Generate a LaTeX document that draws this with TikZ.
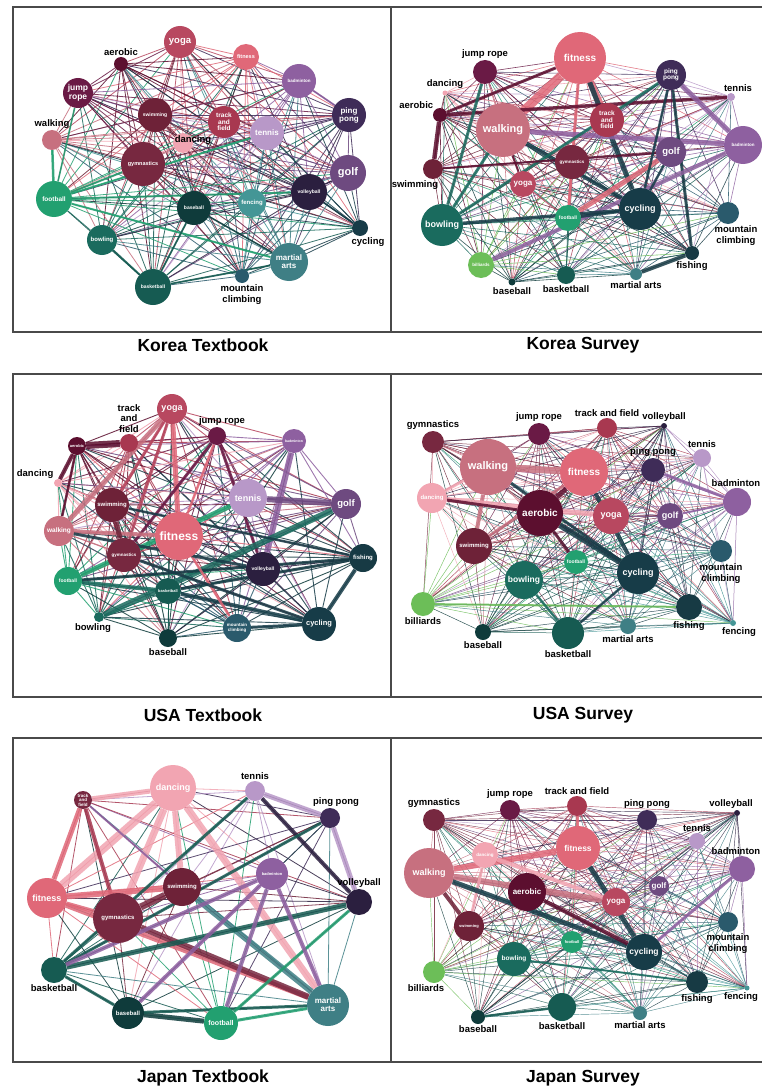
\documentclass[tikz,border=0pt]{standalone}
\usepackage{fontspec}
\setmainfont{Liberation Sans}
\usetikzlibrary{backgrounds}

\definecolor{c-fitness}{HTML}{E06878}
\definecolor{c-walking}{HTML}{C7707F}
\definecolor{c-yoga}{HTML}{B84860}
\definecolor{c-dancing}{HTML}{F2A5B2}
\definecolor{c-aerobic}{HTML}{5C0F2F}
\definecolor{c-jumprope}{HTML}{6A1A45}
\definecolor{c-trackfield}{HTML}{A83850}
\definecolor{c-gymnastics}{HTML}{772840}
\definecolor{c-swimming}{HTML}{6E2238}
\definecolor{c-badminton}{HTML}{8E60A0}
\definecolor{c-tennis}{HTML}{B898C8}
\definecolor{c-pingpong}{HTML}{3F2C58}
\definecolor{c-golf}{HTML}{6E4A80}
\definecolor{c-volleyball}{HTML}{2B1F3F}
\definecolor{c-football}{HTML}{22A070}
\definecolor{c-billiards}{HTML}{6CBE58}
\definecolor{c-bowling}{HTML}{1A6B5E}
\definecolor{c-basketball}{HTML}{165B52}
\definecolor{c-baseball}{HTML}{0F3B3B}
\definecolor{c-cycling}{HTML}{173C48}
\definecolor{c-fishing}{HTML}{173A44}
\definecolor{c-mountain}{HTML}{2A5A6C}
\definecolor{c-martial}{HTML}{3F7F85}
\definecolor{c-fencing}{HTML}{449696}
\definecolor{frame}{HTML}{4A4A4A}

\tikzset{
  ball/.style={circle, inner sep=0pt, fill=#1, text=white, align=center},
  fs/.style={font=\bfseries\fontsize{#1}{#1}\selectfont},
  lab/.style={font=\bfseries\fontsize{9.5}{10.5}\selectfont, text=black, inner sep=1.5pt, align=center},
  tie/.style={line width=#1, opacity=.85},
  caption/.style={font=\bfseries\fontsize{17.5}{20}\selectfont},
}

% every pair of a panel joined by a thin line
\newcommand\meshall[3]{%
  \foreach \a [count=\i] in {#2} {%
    \foreach \b [count=\j] in {#2} {%
      \ifnum\j>\i
        \ifodd\numexpr\i+\j\relax \def\ec{\b}\else\def\ec{\a}\fi
        \draw[tie=#3, draw=c-\ec] (#1-\a) -- (#1-\b);
      \fi
    }%
  }%
}

\begin{document}
\begin{tikzpicture}[x=1pt,y=-1pt]
\useasboundingbox (0,0) rectangle (762,1089);

% frames
\draw[frame, line width=1.2] (13,7) rectangle (391,332) (391,7) -- (762,7) (391,332) -- (762,332);
\draw[frame, line width=1.2] (13,374) rectangle (391,697) (391,374) -- (762,374) (391,697) -- (762,697);
\draw[frame, line width=1.2] (13,738) rectangle (391,1062) (391,738) -- (762,738) (391,1062) -- (762,1062);

\node[caption] (t1) at (203,345) {Korea Textbook};
\node[caption] (t2) at (583,345) {Korea Survey};
\node[caption] (t3) at (203,715) {USA Textbook};
\node[caption] (t4) at (583,715) {USA Survey};
\node[caption] (t5) at (203,1078) {Japan Textbook};
\node[caption] (t6) at (583,1078) {Japan Survey};

% Korea Textbook
\node[ball=c-yoga, minimum size=32, fs=9.5] (p1-yoga) at (180,42) {yoga};
\node[ball=c-fitness, minimum size=26, fs=5.5] (p1-fitness) at (246,57) {fitness};
\node[ball=c-aerobic, minimum size=14, label={[lab]above:aerobic}] (p1-aerobic) at (121,64) {};
\node[ball=c-jumprope, minimum size=30, fs=8.5] (p1-jumprope) at (78,93) {jump\\rope};
\node[ball=c-badminton, minimum size=34, fs=4.5] (p1-badminton) at (299,81) {badminton};
\node[ball=c-pingpong, minimum size=34, fs=8] (p1-pingpong) at (349,115) {ping\\pong};
\node[ball=c-walking, minimum size=20, label={[lab]above:walking}] (p1-walking) at (52,140) {};
\node[ball=c-swimming, minimum size=34, fs=5] (p1-swimming) at (155,115) {swimming};
\node[ball=c-trackfield, minimum size=32, fs=6.5] (p1-trackfield) at (224,122) {track\\and\\field};
\node[ball=c-dancing, minimum size=20, label={[lab, xshift=10pt, yshift=-13pt]above:dancing}] (p1-dancing) at (183,143) {};
\node[ball=c-tennis, minimum size=34, fs=8] (p1-tennis) at (267,133) {tennis};
\node[ball=c-gymnastics, minimum size=44, fs=5.5] (p1-gymnastics) at (143,164) {gymnastics};
\node[ball=c-golf, minimum size=36, fs=11] (p1-golf) at (348,173) {golf};
\node[ball=c-football, minimum size=36, fs=6.5] (p1-football) at (54,199) {football};
\node[ball=c-baseball, minimum size=34, fs=5] (p1-baseball) at (194,208) {baseball};
\node[ball=c-fencing, minimum size=28, fs=6] (p1-fencing) at (252,203) {fencing};
\node[ball=c-volleyball, minimum size=36, fs=5] (p1-volleyball) at (309,192) {volleyball};
\node[ball=c-cycling, minimum size=16, label={[lab, xshift=8pt]below:cycling}] (p1-cycling) at (360,228) {};
\node[ball=c-bowling, minimum size=30, fs=6] (p1-bowling) at (102,240) {bowling};
\node[ball=c-martial, minimum size=38, fs=8] (p1-martial) at (289,262) {martial\\arts};
\node[ball=c-basketball, minimum size=36, fs=5] (p1-basketball) at (153,287) {basketball};
\node[ball=c-mountain, minimum size=14, label={[lab]below:mountain\\climbing}] (p1-mountain) at (242,276) {};

% Korea Survey
\node[ball=c-fitness, minimum size=52, fs=10] (p2-fitness) at (580,58) {fitness};
\node[ball=c-jumprope, minimum size=24, label={[lab]above:jump rope}] (p2-jumprope) at (485,72) {};
\node[ball=c-dancing, minimum size=5, label={[lab]above:dancing}] (p2-dancing) at (445,93) {};
\node[ball=c-aerobic, minimum size=14, label={[lab]above left:aerobic}] (p2-aerobic) at (440,115) {};
\node[ball=c-walking, minimum size=54, fs=11] (p2-walking) at (503,130) {walking};
\node[ball=c-trackfield, minimum size=34, fs=6.5] (p2-trackfield) at (607,120) {track\\and\\field};
\node[ball=c-pingpong, minimum size=30, fs=6.5] (p2-pingpong) at (671,75) {ping\\pong};
\node[ball=c-tennis, minimum size=8, label={[lab, xshift=7pt]above:tennis}] (p2-tennis) at (731,97) {};
\node[ball=c-badminton, minimum size=38, fs=4.5] (p2-badminton) at (743,145) {badminton};
\node[ball=c-golf, minimum size=30, fs=9.5] (p2-golf) at (671,152) {golf};
\node[ball=c-gymnastics, minimum size=34, fs=4.5] (p2-gymnastics) at (572,162) {gymnastics};
\node[ball=c-swimming, minimum size=20, label={[lab, xshift=-18pt]below:swimming}] (p2-swimming) at (433,169) {};
\node[ball=c-yoga, minimum size=26, fs=8] (p2-yoga) at (523,184) {yoga};
\node[ball=c-cycling, minimum size=42, fs=9] (p2-cycling) at (640,209) {cycling};
\node[ball=c-mountain, minimum size=22, label={[lab, xshift=8pt]below:mountain\\climbing}] (p2-mountain) at (728,213) {};
\node[ball=c-bowling, minimum size=42, fs=9] (p2-bowling) at (442,225) {bowling};
\node[ball=c-football, minimum size=26, fs=5] (p2-football) at (568,218) {football};
\node[ball=c-billiards, minimum size=26, fs=4.5] (p2-billiards) at (481,265) {billiards};
\node[ball=c-baseball, minimum size=7, label={[lab]below:baseball}] (p2-baseball) at (512,282) {};
\node[ball=c-basketball, minimum size=18, label={[lab]below:basketball}] (p2-basketball) at (566,275) {};
\node[ball=c-martial, minimum size=12, label={[lab]below:martial arts}] (p2-martial) at (636,274) {};
\node[ball=c-fishing, minimum size=14, label={[lab]below:fishing}] (p2-fishing) at (692,253) {};

% USA Textbook
\node[ball=c-yoga, minimum size=30, fs=9] (p3-yoga) at (172,409) {yoga};
\node[ball=c-jumprope, minimum size=18, label={[lab, xshift=5pt]above:jump rope}] (p3-jumprope) at (217,436) {};
\node[ball=c-trackfield, minimum size=18, label={[lab]above:track\\and\\field}] (p3-trackfield) at (129,443) {};
\node[ball=c-aerobic, minimum size=18, fs=4] (p3-aerobic) at (77,446) {aerobic};
\node[ball=c-badminton, minimum size=24, fs=3.5] (p3-badminton) at (294,441) {badminton};
\node[ball=c-dancing, minimum size=8, label={[lab]above left:dancing}] (p3-dancing) at (58,483) {};
\node[ball=c-swimming, minimum size=34, fs=6] (p3-swimming) at (112,505) {swimming};
\node[ball=c-tennis, minimum size=38, fs=9] (p3-tennis) at (248,498) {tennis};
\node[ball=c-golf, minimum size=30, fs=9.5] (p3-golf) at (346,504) {golf};
\node[ball=c-walking, minimum size=30, fs=6.5] (p3-walking) at (59,531) {walking};
\node[ball=c-fitness, minimum size=48, fs=12] (p3-fitness) at (179,536) {fitness};
\node[ball=c-gymnastics, minimum size=34, fs=4.5] (p3-gymnastics) at (124,555) {gymnastics};
\node[ball=c-fishing, minimum size=28, fs=6] (p3-fishing) at (363,558) {fishing};
\node[ball=c-volleyball, minimum size=34, fs=5] (p3-volleyball) at (263,569) {volleyball};
\node[ball=c-football, minimum size=28, fs=5] (p3-football) at (68,581) {football};
\node[ball=c-basketball, minimum size=26, fs=4] (p3-basketball) at (168,591) {basketball};
\node[ball=c-bowling, minimum size=10, label={[lab, xshift=-6pt]below:bowling}] (p3-bowling) at (99,617) {};
\node[ball=c-baseball, minimum size=18, label={[lab]below:baseball}] (p3-baseball) at (168,638) {};
\node[ball=c-mountain, minimum size=28, fs=4.5] (p3-mountain) at (237,628) {mountain\\climbing};
\node[ball=c-cycling, minimum size=34, fs=7.5] (p3-cycling) at (319,624) {cycling};

% USA Survey
\node[ball=c-gymnastics, minimum size=22, label={[lab]above:gymnastics}] (p4-gymnastics) at (433,442) {};
\node[ball=c-jumprope, minimum size=22, label={[lab]above:jump rope}] (p4-jumprope) at (539,434) {};
\node[ball=c-trackfield, minimum size=20, label={[lab]above:track and field}] (p4-trackfield) at (607,428) {};
\node[ball=c-volleyball, minimum size=6, label={[lab]above:volleyball}] (p4-volleyball) at (664,426) {};
\node[ball=c-tennis, minimum size=18, label={[lab]above:tennis}] (p4-tennis) at (702,458) {};
\node[ball=c-walking, minimum size=56, fs=11] (p4-walking) at (488,467) {walking};
\node[ball=c-fitness, minimum size=48, fs=10] (p4-fitness) at (584,472) {fitness};
\node[ball=c-pingpong, minimum size=24, label={[lab]above:ping pong}] (p4-pingpong) at (653,470) {};
\node[ball=c-badminton, minimum size=28, label={[lab, xshift=-1pt]above:badminton}] (p4-badminton) at (737,502) {};
\node[ball=c-dancing, minimum size=30, fs=6] (p4-dancing) at (432,498) {dancing};
\node[ball=c-aerobic, minimum size=46, fs=10] (p4-aerobic) at (540,513) {aerobic};
\node[ball=c-yoga, minimum size=36, fs=9] (p4-yoga) at (611,516) {yoga};
\node[ball=c-golf, minimum size=26, fs=9] (p4-golf) at (670,516) {golf};
\node[ball=c-swimming, minimum size=36, fs=6] (p4-swimming) at (474,546) {swimming};
\node[ball=c-mountain, minimum size=22, label={[lab]below:mountain\\climbing}] (p4-mountain) at (721,551) {};
\node[ball=c-football, minimum size=24, fs=5] (p4-football) at (576,562) {football};
\node[ball=c-cycling, minimum size=42, fs=9] (p4-cycling) at (638,573) {cycling};
\node[ball=c-bowling, minimum size=38, fs=8.5] (p4-bowling) at (524,580) {bowling};
\node[ball=c-billiards, minimum size=24, label={[lab]below:billiards}] (p4-billiards) at (423,604) {};
\node[ball=c-fishing, minimum size=26, label={[lab]below:fishing}] (p4-fishing) at (689,607) {};
\node[ball=c-fencing, minimum size=6, label={[lab, xshift=6pt]below:fencing}] (p4-fencing) at (733,623) {};
\node[ball=c-baseball, minimum size=16, label={[lab]below:baseball}] (p4-baseball) at (483,632) {};
\node[ball=c-basketball, minimum size=32, label={[lab]below:basketball}] (p4-basketball) at (568,633) {};
\node[ball=c-martial, minimum size=16, label={[lab]below:martial arts}] (p4-martial) at (628,626) {};

% Japan Textbook
\node[ball=c-dancing, minimum size=46, fs=9] (p5-dancing) at (173,788) {dancing};
\node[ball=c-gymnastics, minimum size=18, fs=4.5] (p5-trackfield) at (83,800) {track\\and\\field};
\node[ball=c-tennis, minimum size=20, label={[lab]above:tennis}] (p5-tennis) at (255,791) {};
\node[ball=c-pingpong, minimum size=20, label={[lab, xshift=6pt]above:ping pong}] (p5-pingpong) at (330,818) {};
\node[ball=c-badminton, minimum size=32, fs=4] (p5-badminton) at (272,874) {badminton};
\node[ball=c-volleyball, minimum size=26, label={[lab]above:volleyball}] (p5-volleyball) at (359,902) {};
\node[ball=c-swimming, minimum size=38, fs=6] (p5-swimming) at (182,887) {swimming};
\node[ball=c-fitness, minimum size=40, fs=9] (p5-fitness) at (47,898) {fitness};
\node[ball=c-gymnastics, minimum size=50, fs=6] (p5-gymnastics) at (118,918) {gymnastics};
\node[ball=c-basketball, minimum size=26, label={[lab]below:basketball}] (p5-basketball) at (54,970) {};
\node[ball=c-baseball, minimum size=32, fs=6] (p5-baseball) at (128,1013) {baseball};
\node[ball=c-football, minimum size=34, fs=7] (p5-football) at (221,1023) {football};
\node[ball=c-martial, minimum size=42, fs=8] (p5-martial) at (328,1005) {martial\\arts};

% Japan Survey
\node[ball=c-gymnastics, minimum size=22, label={[lab]above:gymnastics}] (p6-gymnastics) at (434,820) {};
\node[ball=c-jumprope, minimum size=20, label={[lab]above:jump rope}] (p6-jumprope) at (510,810) {};
\node[ball=c-trackfield, minimum size=20, label={[lab]above:track and field}] (p6-trackfield) at (577,806) {};
\node[ball=c-pingpong, minimum size=20, label={[lab]above:ping pong}] (p6-pingpong) at (647,820) {};
\node[ball=c-volleyball, minimum size=6, label={[lab, xshift=-6pt]above:volleyball}] (p6-volleyball) at (737,813) {};
\node[ball=c-tennis, minimum size=16, label={[lab]above:tennis}] (p6-tennis) at (697,841) {};
\node[ball=c-badminton, minimum size=26, label={[lab, xshift=-6pt]above:badminton}] (p6-badminton) at (742,869) {};
\node[ball=c-fitness, minimum size=44, fs=8.5] (p6-fitness) at (578,848) {fitness};
\node[ball=c-dancing, minimum size=26, fs=4.5] (p6-dancing) at (485,855) {dancing};
\node[ball=c-walking, minimum size=50, fs=9] (p6-walking) at (429,873) {walking};
\node[ball=c-aerobic, minimum size=38, fs=8] (p6-aerobic) at (527,892) {aerobic};
\node[ball=c-golf, minimum size=20, fs=8] (p6-golf) at (659,886) {golf};
\node[ball=c-yoga, minimum size=28, fs=8] (p6-yoga) at (616,902) {yoga};
\node[ball=c-swimming, minimum size=30, fs=4] (p6-swimming) at (469,926) {swimming};
\node[ball=c-mountain, minimum size=20, label={[lab]below:mountain\\climbing}] (p6-mountain) at (728,922) {};
\node[ball=c-football, minimum size=22, fs=4] (p6-football) at (572,942) {football};
\node[ball=c-cycling, minimum size=36, fs=8.5] (p6-cycling) at (644,952) {cycling};
\node[ball=c-bowling, minimum size=34, fs=6.5] (p6-bowling) at (514,959) {bowling};
\node[ball=c-billiards, minimum size=22, label={[lab, xshift=-8pt]below:billiards}] (p6-billiards) at (434,972) {};
\node[ball=c-fishing, minimum size=22, label={[lab]below:fishing}] (p6-fishing) at (697,982) {};
\node[ball=c-fencing, minimum size=5, label={[lab, xshift=-6pt]below:fencing}] (p6-fencing) at (747,988) {};
\node[ball=c-basketball, minimum size=28, label={[lab]below:basketball}] (p6-basketball) at (562,1007) {};
\node[ball=c-baseball, minimum size=14, label={[lab]below:baseball}] (p6-baseball) at (478,1017) {};
\node[ball=c-martial, minimum size=14, label={[lab]below:martial arts}] (p6-martial) at (640,1013) {};

\begin{scope}[on background layer]
\fill[white] (0,0) rectangle (762,1089);

\meshall{p1}{yoga,fitness,aerobic,jumprope,badminton,pingpong,walking,swimming,trackfield,dancing,tennis,gymnastics,golf,football,baseball,fencing,volleyball,cycling,bowling,martial,basketball,mountain}{0.8}
\meshall{p2}{fitness,jumprope,dancing,aerobic,walking,trackfield,pingpong,tennis,badminton,golf,gymnastics,swimming,yoga,cycling,mountain,bowling,football,billiards,baseball,basketball,martial,fishing}{0.6}
\meshall{p3}{yoga,jumprope,trackfield,aerobic,badminton,dancing,swimming,tennis,golf,walking,fitness,gymnastics,fishing,volleyball,football,basketball,bowling,baseball,mountain,cycling}{0.9}
\meshall{p4}{gymnastics,jumprope,trackfield,volleyball,tennis,walking,fitness,pingpong,badminton,dancing,aerobic,yoga,golf,swimming,mountain,football,cycling,bowling,billiards,fishing,fencing,baseball,basketball,martial}{0.5}
\meshall{p5}{dancing,trackfield,tennis,pingpong,badminton,volleyball,swimming,fitness,gymnastics,basketball,baseball,football,martial}{0.8}
\meshall{p6}{gymnastics,jumprope,trackfield,pingpong,volleyball,tennis,badminton,fitness,dancing,walking,aerobic,golf,yoga,swimming,mountain,football,cycling,bowling,billiards,fishing,fencing,basketball,baseball,martial}{0.45}

% heavier ties
\foreach \u/\v/\w/\c in {football/walking/2.5/football, football/tennis/2/football, football/volleyball/2/football,
  football/martial/2/football, football/gymnastics/2/football, football/jumprope/1.6/football,
  bowling/basketball/2/basketball, baseball/basketball/1.8/basketball, badminton/pingpong/1.8/badminton,
  golf/volleyball/1.5/volleyball, cycling/volleyball/1.5/cycling, baseball/martial/1.6/baseball,
  basketball/martial/1.8/basketball}
  \draw[tie=\w, draw=c-\c] (p1-\u) -- (p1-\v);

\foreach \u/\v/\w/\c in {fitness/walking/9/fitness, fitness/trackfield/7/fitness, fitness/cycling/5/cycling,
  fitness/football/3/fitness, aerobic/swimming/4.5/aerobic, aerobic/fitness/3/aerobic, aerobic/tennis/3.5/aerobic,
  walking/badminton/5/badminton, walking/cycling/4/cycling, pingpong/badminton/5/badminton,
  pingpong/fishing/3/fishing, pingpong/bowling/3/bowling, badminton/billiards/4/badminton,
  golf/football/5/fitness, fishing/martial/4/fishing, cycling/bowling/3.5/cycling, bowling/jumprope/3/bowling,
  walking/bowling/3/bowling, swimming/golf/2/aerobic, cycling/football/3/cycling, gymnastics/football/2/fitness,
  walking/yoga/2/aerobic, pingpong/cycling/2.5/cycling, golf/cycling/2.5/cycling}
  \draw[tie=\w, draw=c-\c] (p2-\u) -- (p2-\v);

\foreach \u/\v/\w/\c in {aerobic/trackfield/7/aerobic, aerobic/dancing/4/aerobic, aerobic/walking/2.5/aerobic,
  yoga/walking/5/walking, yoga/fitness/5/fitness, yoga/gymnastics/3/yoga, yoga/swimming/3/yoga,
  jumprope/gymnastics/3/jumprope, jumprope/volleyball/3/jumprope, jumprope/fitness/2.5/fitness,
  badminton/volleyball/6/badminton, tennis/golf/6/golf, football/tennis/5/football, bowling/golf/6/bowling,
  walking/fitness/4/walking, swimming/gymnastics/5/swimming, football/basketball/4/bowling,
  basketball/cycling/4/cycling, fishing/cycling/4/cycling, fishing/football/3/fishing,
  fishing/basketball/3/fishing, mountain/cycling/3/cycling, fitness/mountain/2.5/fitness,
  walking/volleyball/3/cycling, gymnastics/cycling/3/cycling, swimming/fishing/2.5/cycling}
  \draw[tie=\w, draw=c-\c] (p3-\u) -- (p3-\v);

\foreach \u/\v/\w/\c in {walking/fitness/7/walking, walking/swimming/4/walking, dancing/yoga/5/dancing,
  dancing/walking/3/dancing, aerobic/cycling/6/cycling, aerobic/fitness/5/aerobic, aerobic/dancing/3/aerobic,
  aerobic/football/3/aerobic, fitness/cycling/4/cycling, swimming/fitness/3/walking,
  badminton/pingpong/3/badminton, badminton/golf/2/badminton, billiards/fishing/2/billiards,
  walking/cycling/3/cycling, bowling/basketball/2.5/bowling, cycling/basketball/2.5/cycling}
  \draw[tie=\w, draw=c-\c] (p4-\u) -- (p4-\v);

\foreach \u/\v/\w/\c in {dancing/fitness/8/dancing, dancing/gymnastics/7/dancing, dancing/swimming/6/dancing,
  dancing/martial/7/dancing, dancing/trackfield/5/dancing, trackfield/fitness/5/fitness,
  trackfield/gymnastics/4/trackfield, trackfield/swimming/2/badminton, fitness/swimming/6/fitness,
  fitness/martial/5/fitness, fitness/gymnastics/4/fitness, gymnastics/swimming/7/gymnastics,
  gymnastics/martial/6/gymnastics, swimming/martial/6/martial, tennis/pingpong/5/tennis,
  tennis/volleyball/4/volleyball, pingpong/volleyball/5/tennis, basketball/volleyball/5/basketball,
  basketball/pingpong/3/basketball, basketball/baseball/3/basketball, baseball/football/5/baseball,
  baseball/martial/3/basketball, football/volleyball/3/football, football/martial/3/football,
  badminton/baseball/4/badminton, badminton/football/4/badminton, badminton/martial/4/badminton,
  badminton/basketball/4/badminton, tennis/basketball/3/basketball}
  \draw[tie=\w, draw=c-\c] (p5-\u) -- (p5-\v);

\foreach \u/\v/\w/\c in {walking/fitness/6/fitness, walking/yoga/6/walking, dancing/yoga/4/dancing,
  dancing/swimming/3/dancing, walking/cycling/5/cycling, walking/swimming/4/swimming,
  aerobic/cycling/4/aerobic, fitness/cycling/5/cycling, fitness/trackfield/3/fitness,
  badminton/cycling/3/badminton, bowling/fishing/2/bowling, basketball/baseball/2.5/basketball}
  \draw[tie=\w, draw=c-\c] (p6-\u) -- (p6-\v);
\end{scope}
\end{tikzpicture}
\end{document}
